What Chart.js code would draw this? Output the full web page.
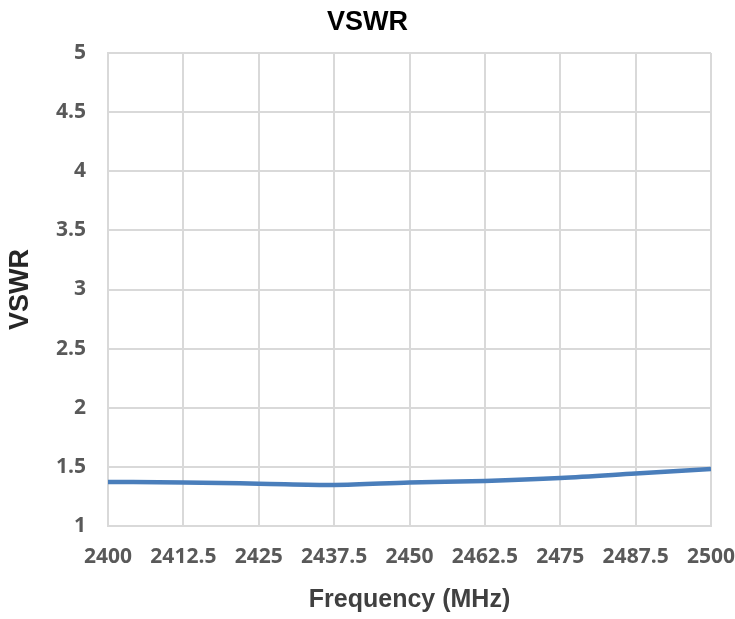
<!DOCTYPE html>
<html>
<head>
<meta charset="utf-8">
<script src="https://cdn.jsdelivr.net/npm/chart.js@4/dist/chart.umd.min.js"></script>
<style>
  html, body { margin: 0; padding: 0; background: #fff; }
  #wrap { width: 735px; height: 619px; position: relative; }
</style>
</head>
<body>
<div id="wrap"><canvas id="vswr-chart"></canvas></div>
<script>
// Frequency sweep (MHz) and measured VSWR
const frequencies = [2400, 2412.5, 2425, 2437.5, 2450, 2462.5, 2475, 2487.5, 2500];
const vswrValues = [1.373, 1.368, 1.358, 1.347, 1.368, 1.381, 1.405, 1.443, 1.482];

const xTicks = [2400, 2412.5, 2425, 2437.5, 2450, 2462.5, 2475, 2487.5, 2500];
const yTicks = [1, 1.5, 2, 2.5, 3, 3.5, 4, 4.5, 5];

const tickFont = { family: "'Open Sans', 'Liberation Sans', sans-serif", size: 21, weight: 'bold' };
const titleFamily = "'Liberation Sans', Arial, sans-serif";

const ctx = document.getElementById('vswr-chart').getContext('2d');

new Chart(ctx, {
    type: 'line',
    data: {
        datasets: [
            {
                label: 'VSWR',
                data: frequencies.map((f, i) => ({ x: f, y: vswrValues[i] })),
                borderColor: '#4a7ebb',
                backgroundColor: '#4a7ebb',
                borderWidth: 4.5,
                pointRadius: 0,
                cubicInterpolationMode: 'monotone',
                fill: false
            }
        ]
    },
    options: {
        responsive: true,
        maintainAspectRatio: false,
        animation: false,
        layout: {
            padding: 0
        },
        scales: {
            x: {
                type: 'linear',
                min: 2400,
                max: 2500,
                afterBuildTicks: axis => {
                    axis.ticks = xTicks.map(v => ({ value: v }));
                },
                afterFit: axis => {
                    axis.height = 93;
                    axis.paddingLeft = 0;
                    axis.paddingRight = 24; // room on the right of the plot
                },
                grid: { color: '#d9d9d9', lineWidth: 2, drawTicks: false },
                border: { color: '#d9d9d9', width: 2 },
                ticks: {
                    color: '#595959',
                    font: tickFont,
                    padding: 18,
                    maxRotation: 0,
                    autoSkip: false,
                    callback: v => String(v)
                },
                title: {
                    display: true,
                    text: 'Frequency (MHz)',
                    color: '#404040',
                    font: { family: titleFamily, size: 25, weight: 'bold' },
                    padding: { top: 0, bottom: 4 }
                }
            },
            y: {
                min: 1,
                max: 5,
                afterBuildTicks: axis => {
                    axis.ticks = yTicks.map(v => ({ value: v }));
                },
                afterFit: axis => {
                    axis.width = 108;
                    axis.paddingTop = 0;
                    axis.paddingBottom = 0;
                },
                grid: { color: '#d9d9d9', lineWidth: 2, drawTicks: false },
                border: { color: '#d9d9d9', width: 2 },
                ticks: {
                    color: '#595959',
                    font: tickFont,
                    padding: 22,
                    callback: v => String(v)
                },
                title: {
                    display: true,
                    text: 'VSWR',
                    color: '#262626',
                    font: { family: titleFamily, size: 27, weight: 'bold' },
                    padding: { top: 4, bottom: 0 }
                }
            }
        },
        plugins: {
            legend: { display: false },
            tooltip: { enabled: false },
            title: {
                display: true,
                text: 'VSWR',
                color: '#000000',
                font: { family: titleFamily, size: 27, weight: 'bold' },
                padding: { top: 6, bottom: 14.6 }
            }
        }
    }
});
</script>
</body>
</html>
